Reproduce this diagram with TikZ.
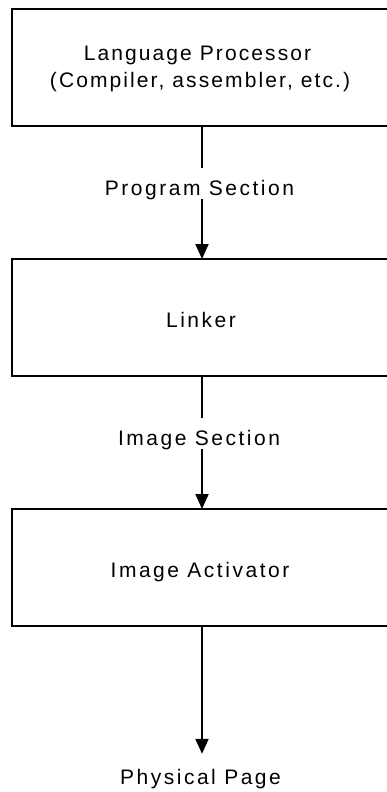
\documentclass[tikz,border=0pt]{standalone}
\usepackage{fontspec}
\setmainfont{Liberation Sans}
\newfontfamily\lsfont[LetterSpace=12]{Liberation Sans}
\newfontfamily\lsfontnarrow[LetterSpace=10]{Liberation Sans}
\usetikzlibrary{arrows.meta}
\begin{document}
\begin{tikzpicture}[x=1pt,y=-1pt,
  stagebox/.style={draw, line width=2pt, minimum width=380pt, minimum height=117pt, inner sep=0pt, outer sep=0pt},
  txt/.style={inner sep=0pt, outer sep=0pt, anchor=base, font=\lsfont\fontsize{21}{24}\selectfont},
  txtbox/.style={txt, font=\lsfontnarrow\fontsize{21}{24}\selectfont},
  conn/.style={line width=2pt},
  arr/.style={conn, -{Triangle[width=13pt,length=15pt]}}]
\useasboundingbox[fill=white] (0,0) rectangle (387,792);
\clip (0,0) rectangle (387,792);
% boxes
\node[stagebox] (lp) at (202,67.75) {};
\node[stagebox] (lk) at (202,317.5) {};
\node[stagebox] (ia) at (202,567.5) {};
% box texts
\node[txtbox] (lpa) at (197.5,60) {Language Processor};
\node[txtbox] (lpb) at (200,87) {(Compiler, assembler, etc.)};
\node[txt] (lkt) at (201,327) {Linker};
\node[txt] (iat) at (200,577) {Image Activator};
% connector labels
\node[txt] (ps) at (199.5,195) {Program Section};
\node[txt] (is) at (199,445) {Image Section};
\node[txt] (pp) at (200.5,784) {Physical Page};
% connectors
\draw[conn] (lp.south) -- ([yshift=12pt]ps.north -| lp.south);
\draw[arr] (ps.south -| lk.north) -- (lk.north);
\draw[conn] (lk.south) -- ([yshift=12pt]is.north -| lk.south);
\draw[arr] (is.south -| ia.north) -- (ia.north);
\coordinate (ppend) at ([yshift=15pt]pp.north -| ia.south);
\draw[arr] (ia.south) -- (ppend);
\end{tikzpicture}
\end{document}
